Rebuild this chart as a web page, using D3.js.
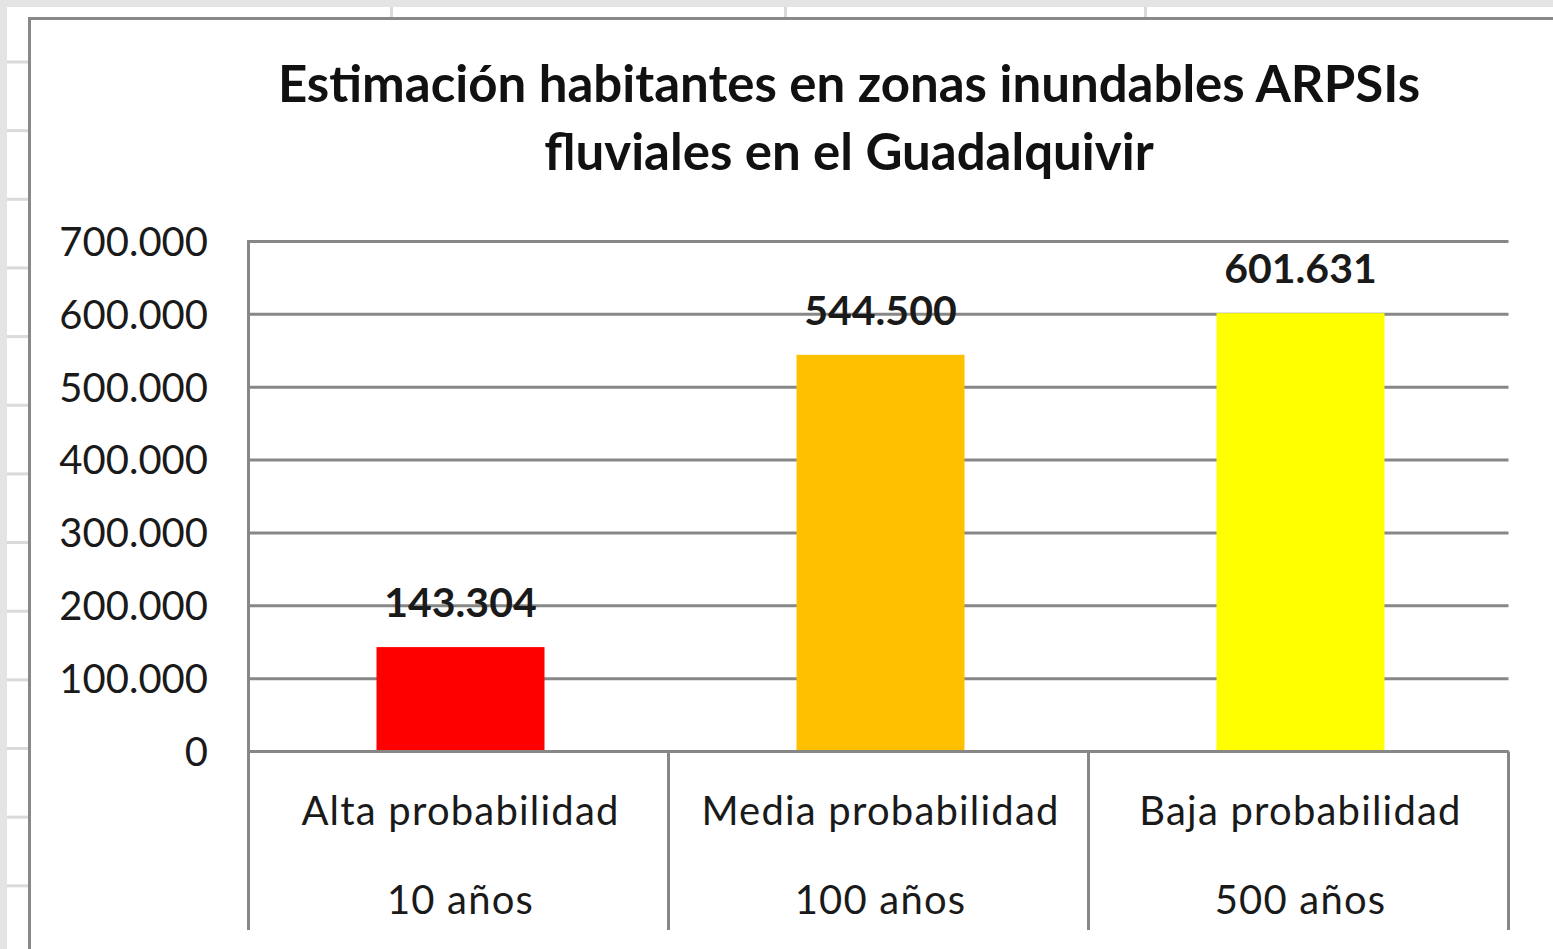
<!DOCTYPE html>
<html>
<head>
<meta charset="utf-8">
<script src="https://cdn.jsdelivr.net/npm/d3@7"></script>
<style>
  html, body { margin: 0; padding: 0; background: #fff; }
  svg { display: block; }
</style>
</head>
<body>
<svg id="chart" width="1553" height="949"></svg>
<script>
// Data
const categories = ["Alta probabilidad", "Media probabilidad", "Baja probabilidad"];
const periods = ["10 años", "100 años", "500 años"];
const habitantes = [143304, 544500, 601631];
const barColors = ["#FF0000", "#FFC000", "#FFFF00"];
const yTicks = [0, 100000, 200000, 300000, 400000, 500000, 600000, 700000];
const titleLines = ["Estimación habitantes en zonas inundables ARPSIs", "fluviales en el Guadalquivir"];

const W = 1553, H = 949;
const svg = d3.select("#chart");
const FONT = "Lato, 'Open Sans', sans-serif";

// Spreadsheet backdrop around the chart object
svg.append("rect").attr("x", 0).attr("y", 0).attr("width", W).attr("height", H).attr("fill", "#ffffff");
svg.append("rect").attr("x", 0).attr("y", 0).attr("width", W).attr("height", 7).attr("fill", "#e4e4e4");
svg.append("rect").attr("x", 0).attr("y", 0).attr("width", 7).attr("height", H).attr("fill", "#e4e4e4");
const rowLines = d3.range(62, H, 68.65);
svg.append("g").selectAll("rect").data(rowLines).join("rect")
  .attr("x", 7).attr("y", d => d - 1.5).attr("width", 21).attr("height", 3).attr("fill", "#dadada");
svg.append("g").selectAll("rect").data([391, 785, 1145]).join("rect")
  .attr("x", d => d - 1).attr("y", 7).attr("width", 3).attr("height", 10).attr("fill", "#dadada");

// Chart object frame
svg.append("rect").attr("x", 29.5).attr("y", 18.5).attr("width", W).attr("height", H)
  .attr("fill", "#ffffff").attr("stroke", "#888888").attr("stroke-width", 3);

// Plot area
const plot = { left: 248.5, right: 1508.5, top: 241.5, bottom: 751.5, catBottom: 930 };

const x = d3.scaleBand()
  .domain(categories)
  .range([plot.left, plot.right])
  .paddingInner(0.6)
  .paddingOuter(0.3);

// Category cells for the axis dividers
const xCell = d3.scaleBand()
  .domain(categories)
  .range([plot.left, plot.right]);

const y = d3.scaleLinear()
  .domain([0, 700000])
  .range([plot.bottom, plot.top]);

const esLocale = d3.formatLocale({ decimal: ",", thousands: ".", grouping: [3], currency: ["", " €"] });
const fmt = esLocale.format(",d");

const gridColor = "#878787";

// Horizontal gridlines
svg.append("g").selectAll("line").data(yTicks).join("line")
  .attr("x1", plot.left).attr("x2", plot.right)
  .attr("y1", d => y(d)).attr("y2", d => y(d))
  .attr("stroke", gridColor).attr("stroke-width", 3);

// Y tick labels
svg.append("g").selectAll("text").data(yTicks).join("text")
  .attr("x", 208).attr("y", d => y(d))
  .attr("dy", "0.36em")
  .attr("text-anchor", "end")
  .attr("font-family", FONT).attr("font-size", 40)
  .attr("fill", "#1a1a1a")
  .text(d => fmt(d));

// Bars
svg.append("g").selectAll("rect").data(habitantes).join("rect")
  .attr("x", (d, i) => x(categories[i]) + 2)
  .attr("y", d => y(d))
  .attr("width", x.bandwidth())
  .attr("height", d => y(0) - y(d))
  .attr("fill", (d, i) => barColors[i]);

// Baseline drawn over the bar bottoms
svg.append("line")
  .attr("x1", plot.left).attr("x2", plot.right)
  .attr("y1", y(0)).attr("y2", y(0))
  .attr("stroke", gridColor).attr("stroke-width", 3);

// Value labels
svg.append("g").selectAll("text").data(habitantes).join("text")
  .attr("x", (d, i) => x(categories[i]) + 2 + x.bandwidth() / 2)
  .attr("y", d => y(d) - 30)
  .attr("text-anchor", "middle")
  .attr("font-family", FONT).attr("font-size", 41).attr("font-weight", "bold")
  .attr("fill", "#1a1a1a")
  .text(d => fmt(d));

// Vertical axis line and category dividers
const dividers = categories.map(c => xCell(c)).concat([plot.right]);
svg.append("g").selectAll("line").data(dividers).join("line")
  .attr("x1", d => d).attr("x2", d => d)
  .attr("y1", (d, i) => i === 0 ? plot.top - 1.5 : plot.bottom)
  .attr("y2", plot.catBottom)
  .attr("stroke", gridColor).attr("stroke-width", 3);

// Category labels (two levels)
const catG = svg.append("g");
catG.selectAll("text.cat").data(categories).join("text")
  .attr("class", "cat")
  .attr("x", d => xCell(d) + xCell.bandwidth() / 2 + 2)
  .attr("y", 825)
  .attr("text-anchor", "middle")
  .attr("font-family", FONT).attr("font-size", 40)
  .attr("letter-spacing", 1.2)
  .attr("fill", "#1a1a1a")
  .text(d => d);
catG.selectAll("text.per").data(periods).join("text")
  .attr("class", "per")
  .attr("x", (d, i) => xCell(categories[i]) + xCell.bandwidth() / 2 + 2)
  .attr("y", 914)
  .attr("text-anchor", "middle")
  .attr("font-family", FONT).attr("font-size", 40)
  .attr("letter-spacing", 1.2)
  .attr("fill", "#1a1a1a")
  .text(d => d);

// Title
svg.append("g").selectAll("text").data(titleLines).join("text")
  .attr("x", 849)
  .attr("y", (d, i) => 102 + i * 68)
  .attr("text-anchor", "middle")
  .attr("font-family", FONT).attr("font-size", 51).attr("font-weight", "bold")
  .attr("fill", "#111111")
  .text(d => d);
</script>
</body>
</html>
